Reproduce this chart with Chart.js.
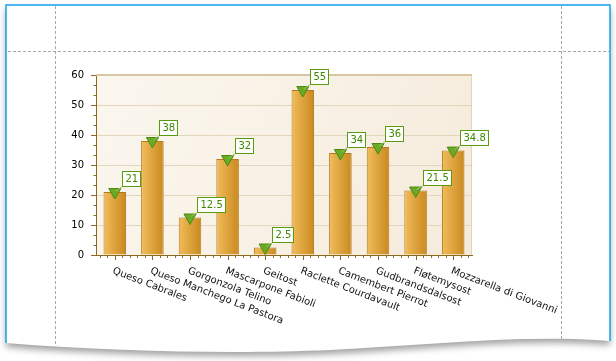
<!DOCTYPE html>
<html>
<head>
<meta charset="utf-8">
<script src="https://cdn.jsdelivr.net/npm/chart.js@4.4.1/dist/chart.umd.min.js"></script>
<style>
  html, body { margin: 0; padding: 0; background: #fff; }
  canvas { display: block; }
</style>
</head>
<body>
<canvas id="cheeseChart" width="616" height="361"></canvas>
<script>
const products = ['Queso Cabrales', 'Queso Manchego La Pastora', 'Gorgonzola Telino', 'Mascarpone Fabioli', 'Geitost',
  'Raclette Courdavault', 'Camembert Pierrot', 'Gudbrandsdalsost', 'Fløtemysost', 'Mozzarella di Giovanni'];
const quantities = [21, 38, 12.5, 32, 2.5, 55, 34, 36, 21.5, 34.8];
const valueLabels = ['21', '38', '12.5', '32', '2.5', '55', '34', '36', '21.5', '34.8'];
const yTicks = [0, 10, 20, 30, 40, 50, 60];

const FONT = '10px "DejaVu Sans"';
const AXIS = '#8b6a1e';

// wavy bottom edge of the report band
function bandPath(c) {
  c.beginPath();
  c.moveTo(6, 5);
  c.lineTo(610, 5);
  c.lineTo(610, 341);
  c.bezierCurveTo(520, 334, 420, 346, 330, 350);
  c.bezierCurveTo(240, 354, 120, 352, 6, 343);
  c.closePath();
}

const designer = {
  id: 'designer',
  beforeDraw(chart) {
    const c = chart.ctx;
    const a = chart.chartArea;
    c.save();
    c.fillStyle = '#fff';
    c.fillRect(0, 0, chart.width, chart.height);

    c.shadowColor = 'rgba(0,0,0,0.38)';
    c.shadowBlur = 7;
    c.shadowOffsetY = 4;
    bandPath(c);
    c.fill();
    c.shadowColor = 'transparent';

    // blue frame
    c.strokeStyle = '#16a3ea';
    c.lineWidth = 1.5;
    c.beginPath();
    c.moveTo(6, 343); c.lineTo(6, 5); c.lineTo(610, 5); c.lineTo(610, 341);
    c.stroke();

    // dashed guides
    bandPath(c);
    c.clip();
    c.strokeStyle = '#a8a8a8';
    c.lineWidth = 1;
    c.setLineDash([3, 2]);
    c.beginPath();
    c.moveTo(8, 51.5); c.lineTo(609, 51.5);
    c.moveTo(55.5, 6); c.lineTo(55.5, 360);
    c.moveTo(561.5, 6); c.lineTo(561.5, 360);
    c.stroke();
    c.restore();

    // plot area background
    c.save();
    const g = c.createLinearGradient(a.left, a.top, a.right, a.bottom);
    g.addColorStop(0, '#fbf7ef');
    g.addColorStop(1, '#f5ebdb');
    c.fillStyle = g;
    c.fillRect(a.left, a.top, a.right - a.left, a.bottom - a.top);
    c.restore();
  },
  beforeDatasetsDraw(chart) {
    const c = chart.ctx;
    const a = chart.chartArea;
    c.save();
    c.strokeStyle = '#e2d4b6';
    c.lineWidth = 1;
    c.beginPath();
    c.moveTo(a.right - 0.5, a.top); c.lineTo(a.right - 0.5, a.bottom);
    c.stroke();
    c.strokeStyle = '#d8c6a0';
    c.lineWidth = 2;
    c.beginPath();
    c.moveTo(a.left, a.top); c.lineTo(a.right, a.top);
    c.stroke();
    c.restore();
  },
  afterDraw(chart) {
    const c = chart.ctx;
    const xs = chart.scales.x;
    const ys = chart.scales.y;
    const a = chart.chartArea;
    c.save();
    c.strokeStyle = AXIS;
    c.lineWidth = 1;
    c.beginPath();
    // y tick marks
    for (let i = 0; i < yTicks.length; i++) {
      const py = Math.round(ys.getPixelForValue(yTicks[i])) + 0.5;
      c.moveTo(a.left - 5, py); c.lineTo(a.left, py);
      if (i < yTicks.length - 1) {
        for (let k = 1; k < 3; k++) {
          const v = yTicks[i] + (yTicks[i + 1] - yTicks[i]) * k / 3;
          const my = Math.round(ys.getPixelForValue(v)) + 0.5;
          c.moveTo(a.left - 2.5, my); c.lineTo(a.left, my);
        }
      }
    }
    // x tick marks
    for (let i = 0; i < products.length; i++) {
      const px = Math.round(xs.getPixelForValue(i)) + 0.5;
      c.moveTo(px, a.bottom); c.lineTo(px, a.bottom + 5);
      for (const d of [-0.4, -0.2, 0.2, 0.4]) {
        const mx = Math.round(xs.getPixelForValue(i + d)) + 0.5;
        c.moveTo(mx, a.bottom); c.lineTo(mx, a.bottom + 3);
      }
    }
    c.stroke();

    // rotated category labels
    c.font = FONT;
    c.fillStyle = '#111';
    c.textAlign = 'left';
    c.textBaseline = 'top';
    products.forEach((name, i) => {
      const px = xs.getPixelForValue(i);
      c.save();
      c.translate(px, a.bottom + 11);
      c.rotate(21 * Math.PI / 180);
      c.fillText(name, 0, 0);
      c.restore();
    });

    // value labels
    const meta = chart.getDatasetMeta(1);
    meta.data.forEach((el, i) => {
      const txt = valueLabels[i];
      const w = Math.ceil(c.measureText(txt).width) + 5;
      const left = Math.round(el.x + 7) + 0.5;
      const bottom = Math.round(el.y - 6) + 0.5;
      c.strokeStyle = '#9cc36a';
      c.lineWidth = 1;
      c.beginPath();
      c.moveTo(el.x + 1, el.y - 1); c.lineTo(left, bottom);
      c.stroke();
      c.fillStyle = '#fff';
      c.fillRect(left, bottom - 15, w, 15);
      c.strokeStyle = '#5a9a0e';
      c.strokeRect(left, bottom - 15, w, 15);
      c.fillStyle = '#3f8800';
      c.textBaseline = 'middle';
      c.fillText(txt, left + 3, bottom - 7);
    });
    c.restore();
  }
};

const ctx = document.getElementById('cheeseChart').getContext('2d');

const cheeseChart = new Chart(ctx, {
  data: {
    labels: products,
    datasets: [{
      type: 'line',
      data: quantities,
      order: 1,
      showLine: false,
      pointStyle: 'triangle',
      rotation: 180,
      pointRadius: 7,
      backgroundColor: '#6aaa24',
      borderColor: '#4c8a12',
      borderWidth: 1
    }, {
      type: 'bar',
      data: quantities,
      order: 2,
      barPercentage: 0.6,
      categoryPercentage: 1,
      borderWidth: 1,
      borderColor: '#b47a1c',
      backgroundColor: (c) => {
        const xs = c.chart.scales.x;
        if (!xs || c.dataIndex === undefined || !xs.width) return '#e0a33c';
        const cx = xs.getPixelForValue(c.dataIndex);
        const half = xs.width / products.length * 0.3;
        const g = c.chart.ctx.createLinearGradient(cx - half, 0, cx + half, 0);
        g.addColorStop(0, '#f1bd5c');
        g.addColorStop(1, '#c9891e');
        return g;
      }
    }]
  },
  options: {
    responsive: false,
    animation: false,
    layout: { padding: { left: 66, top: 75, right: 144, bottom: 106 } },
    plugins: { legend: { display: false }, tooltip: { enabled: false } },
    scales: {
      x: {
        offset: true,
        grid: { display: false },
        border: { display: true, color: AXIS, width: 1 },
        ticks: { display: false },
        afterFit: (s) => { s.height = 0; }
      },
      y: {
        min: 0,
        max: 60,
        ticks: { stepSize: 10, padding: 12, color: '#000', font: { family: 'DejaVu Sans', size: 10 } },
        grid: {
          drawTicks: false,
          color: (c) => (c.tick && (c.tick.value === 0 || c.tick.value === 60)) ? 'rgba(0,0,0,0)' : '#e3d6bc'
        },
        border: { display: true, color: AXIS, width: 1 },
        afterFit: (s) => { s.width = 30; }
      }
    }
  },
  plugins: [designer]
});
</script>
</body>
</html>
